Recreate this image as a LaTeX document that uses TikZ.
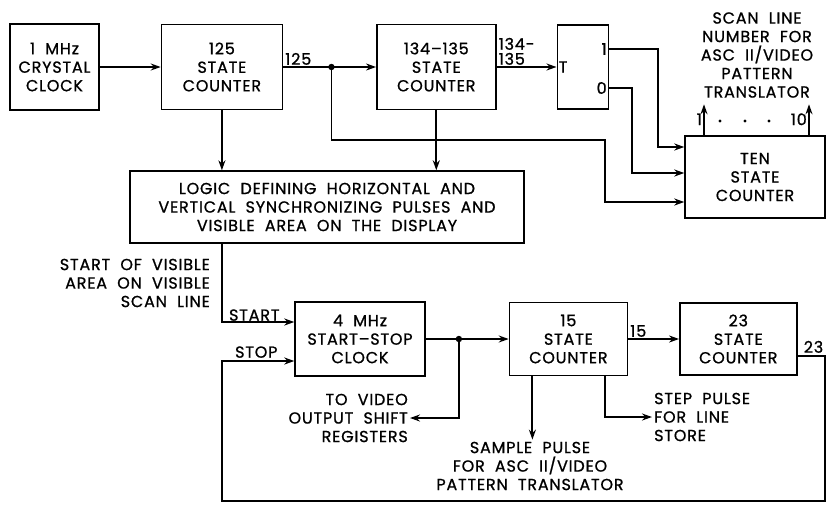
\documentclass[tikz,border=0pt]{standalone}
\usepackage{fontspec}
\setmainfont{Poppins}[LetterSpace=5, WordSpace=2, FakeBold=0.9]
\usepackage{tikz}
\usetikzlibrary{arrows.meta, positioning, calc}
\tikzset{
  %% ---- boxes ----
  block/.style  = {rectangle, draw=black, line width=1.4pt, fill=white,
                   minimum width=#1, align=center, inner sep=2pt},
  block/.default = 120pt,
  lbl/.style    = {inner sep=2pt, align=center},
  %% ---- arrows ----
  arrow/.style  = {-{Stealth[length=10pt, width=7pt]}, line width=1.9pt},
}

\begin{document}
\begin{tikzpicture}[x=1pt, y=-1pt, font=\fontsize{16}{18.5}\selectfont]
  \useasboundingbox (0,0) rectangle (827,504);

  %% top row
  \node[block=89pt, minimum height=86pt] (clk) at (54.5,67)
    {1 MHz\\CRYSTAL\\CLOCK};
  \node[block=121pt, minimum height=85pt, right=61pt of clk] (cnt125)
    {125\\STATE\\COUNTER};
  \node[block=119pt, minimum height=85pt, right=93pt of cnt125] (cnt134)
    {134--135\\STATE\\COUNTER};
  \node[block=51pt, minimum height=84pt, right=60pt of cnt134] (tff) {};
  \node[block=140pt, minimum height=82pt] (ten) at (755,177)
    {TEN\\STATE\\COUNTER};

  \node[block=394pt, minimum height=72pt] (logic) at (327,207)
    {LOGIC DEFINING HORIZONTAL AND\\VERTICAL SYNCHRONIZING PULSES AND\\
     VISIBLE AREA ON THE DISPLAY};

  %% bottom row
  \node[block=130pt, minimum height=74pt] (clk4) at (360,339)
    {4 MHz\\START--STOP\\CLOCK};
  \node[block=118pt, minimum height=73pt, right=83pt of clk4] (cnt15)
    {15\\STATE\\COUNTER};
  \node[block=117pt, minimum height=72pt, right=51pt of cnt15] (cnt23)
    {23\\STATE\\COUNTER};

  %% free texts
  \node[lbl] (scan) at (757,55)
    {SCAN LINE\\NUMBER FOR\\ASC II/VIDEO\\PATTERN\\TRANSLATOR};
  \node[lbl, align=right, anchor=east] (startvis) at (212,283)
    {START OF VISIBLE\\AREA ON VISIBLE\\SCAN LINE};
  \node[lbl, align=right, anchor=east] (vid) at (410,418)
    {TO VIDEO\\OUTPUT SHIFT\\REGISTERS};
  \node[lbl] (sample) at (530,466)
    {SAMPLE PULSE\\FOR ASC II/VIDEO\\PATTERN TRANSLATOR};
  \node[lbl, align=left, anchor=west] (step) at (652,417)
    {STEP PULSE\\FOR LINE\\STORE};

  %% flip-flop pins
  \node[lbl, anchor=west] (tin) at (tff.west) {T};
  \node[lbl, anchor=east] (q1) at ([yshift=18pt]tff.east) {1};
  \node[lbl, anchor=east] (q0) at ([yshift=-21pt]tff.east) {0};

  \coordinate (j1) at ($(cnt125.east)!0.52!(cnt125.east -| cnt134.west)$);
  \coordinate (j2) at ($(clk4.east)!0.4!(clk4.east -| cnt15.west)$);
  \coordinate (stopin) at ([yshift=-22pt]clk4.west);
  \coordinate (loop) at (825,501);

  %% connections, top
  \draw[arrow] (clk) -- (cnt125);
  \draw[arrow] (cnt125.east) -- (cnt125.east -| cnt134.west);
  \fill (j1) circle (3.2pt);
  \node[lbl, anchor=south west] (n125) at (cnt125.east) {125};
  \draw[arrow] (j1) |- (605,140) |- ([yshift=-25pt]ten.west);
  \draw[arrow] (cnt125.south) -- (cnt125.south |- logic.north);
  \draw[arrow] (cnt134.south) -- (cnt134.south |- logic.north);
  \draw[arrow] (cnt134.east) -- (cnt134.east -| tff.west);
  \node[lbl, anchor=south west, align=left, font=\fontsize{16}{15}\selectfont]
    (n134) at (cnt134.east) {134-\\135};
  \draw[arrow] ([yshift=18pt]tff.east) -| (658,147) -- ([yshift=30pt]ten.west);
  \draw[arrow] ([yshift=-21pt]tff.east) -| (632,173) -- ([yshift=4pt]ten.west);

  %% ten state counter outputs
  \draw[arrow] ([xshift=-51pt]ten.north) -- ++(0,-31) coordinate (out1);
  \draw[arrow] ([xshift=54pt]ten.north) -- ++(0,-31) coordinate (out10);
  \node[lbl, anchor=east] (n1) at ([yshift=-15pt]out1) {1};
  \node[lbl, anchor=east] (n10) at ([yshift=-15pt]out10) {10};
  \foreach \x in {720,745,769}
    \fill (\x,121) circle (1.6pt);

  %% start / stop
  \draw[arrow] (logic.south -| cnt125.south) |- ([yshift=17pt]clk4.west);
  \node[lbl, anchor=south] (startlbl) at ([xshift=-40pt,yshift=16pt]clk4.west) {START};
  \draw[arrow] ([yshift=-17pt]cnt23.east) -| (loop) -| (cnt125.south |- stopin)
    -- (stopin);
  \node[lbl, anchor=south] (stoplbl) at ([xshift=-38pt,yshift=1pt]stopin) {STOP};
  \node[lbl, anchor=south] (n23) at ([xshift=16pt,yshift=-16pt]cnt23.east) {23};

  %% connections, bottom
  \draw[arrow] (clk4.east) -- (clk4.east -| cnt15.west);
  \fill (j2) circle (3.2pt);
  \draw[arrow] (j2) |- (vid.east);
  \draw[arrow] (cnt15.east) -- (cnt15.east -| cnt23.west);
  \node[lbl, anchor=south west] (n15) at (cnt15.east) {15};
  \draw[arrow] ([xshift=-36pt]cnt15.south) -- ([xshift=-36pt]cnt15.south |- sample.north);
  \draw[arrow] ([xshift=37pt]cnt15.south) |- (step.west);

\end{tikzpicture}
\end{document}
